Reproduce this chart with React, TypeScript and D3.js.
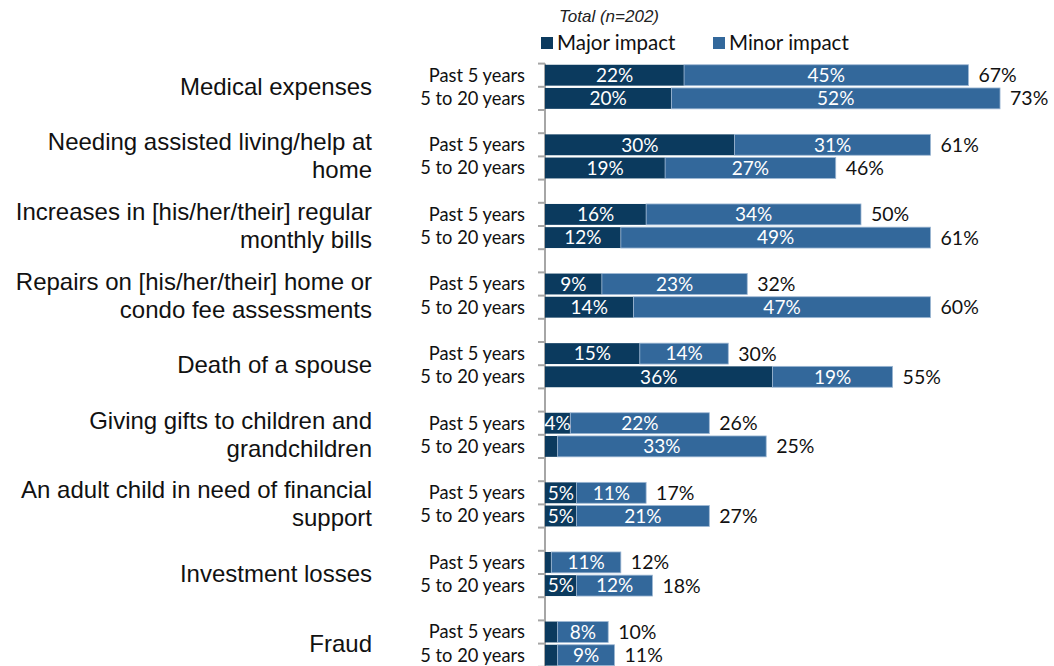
import React from "react";
import * as d3 from "d3";

const categories = [
  "Medical expenses",
  "Needing assisted living/help at\nhome",
  "Increases in [his/her/their] regular\nmonthly bills",
  "Repairs on [his/her/their] home or\ncondo fee assessments",
  "Death of a spouse",
  "Giving gifts to children and\ngrandchildren",
  "An adult child in need of financial\nsupport",
  "Investment losses",
  "Fraud",
];
const periods = ["Past 5 years", "5 to 20 years"];
const majorPast5 = [22, 30, 16, 9, 15, 4, 5, 1, 2];
const minorPast5 = [45, 31, 34, 23, 14, 22, 11, 11, 8];
const totalPast5 = ["67%", "61%", "50%", "32%", "30%", "26%", "17%", "12%", "10%"];
const major5to20 = [20, 19, 12, 14, 36, 2, 5, 5, 2];
const minor5to20 = [52, 27, 49, 47, 19, 33, 21, 12, 9];
const total5to20 = ["73%", "46%", "61%", "60%", "55%", "25%", "27%", "18%", "11%"];
const legendLabels = ["Major impact", "Minor impact"];
const subtitle = "Total (n=202)";

const W = 1054;
const H = 666;
const DARK = "#0B3A5E";
const LIGHT = "#33689B";
const AXIS = "#A6A6A6";
const FONT = "Lato, 'Open Sans', sans-serif";
const CAT_FONT = "'Liberation Sans', Arial, sans-serif";

export default function App() {
  const axisX = 545;
  const rowTop = 63.6;
  const rowH = 23.2;
  const nRows = categories.length * 3;
  const rows = d3.range(nRows);
  const y = d3
    .scaleBand<number>()
    .domain(rows)
    .range([rowTop, rowTop + nRows * rowH])
    .paddingInner(0.1)
    .paddingOuter(0.05);
  const x = d3.scaleLinear().domain([0, 100]).range([axisX, axisX + 632]);

  type Bar = { row: number; major: number; minor: number; total: string; period: string };
  const bars: Bar[] = [];
  categories.forEach((_, i) => {
    bars.push({ row: i * 3, major: majorPast5[i], minor: minorPast5[i], total: totalPast5[i], period: periods[0] });
    bars.push({ row: i * 3 + 1, major: major5to20[i], minor: minor5to20[i], total: total5to20[i], period: periods[1] });
  });

  const tickYs = d3.range(nRows + 1).map((k) => rowTop + k * rowH);
  const bw = y.bandwidth();

  return (
    <svg width={W} height={H} style={{ position: "absolute", left: 0, top: 0, background: "#fff" }}>
      {/* subtitle */}
      <text x={609} y={22} textAnchor="middle" fontFamily={CAT_FONT} fontStyle="italic" fontSize={17} fill="#222">
        {subtitle}
      </text>
      {/* legend */}
      {legendLabels.map((lab, i) => {
        const lx = i === 0 ? 541 : 713;
        return (
          <g key={lab}>
            <rect x={lx} y={37} width={12} height={12} fill={i === 0 ? DARK : LIGHT} />
            <text x={lx + 16} y={50} fontFamily={FONT} fontSize={20.5} fill="#111">
              {lab}
            </text>
          </g>
        );
      })}
      {/* axis */}
      <line x1={axisX} x2={axisX} y1={tickYs[0]} y2={H} stroke={AXIS} strokeWidth={2} />
      {tickYs.map((ty, k) => (
        <line key={k} x1={axisX - 7} x2={axisX} y1={ty} y2={ty} stroke={AXIS} strokeWidth={2} />
      ))}
      {/* category labels */}
      {categories.map((c, i) => {
        const lines = c.split("\n");
        const cy = rowTop + (i * 3 + 1) * rowH;
        const lh = 28;
        const start = cy - ((lines.length - 1) * lh) / 2;
        return (
          <text key={c} textAnchor="end" fontFamily={CAT_FONT} fontSize={24} fill="#111">
            {lines.map((ln, j) => (
              <tspan key={j} x={372} y={start + j * lh} dy="0.33em">
                {ln}
              </tspan>
            ))}
          </text>
        );
      })}
      {/* bars */}
      {bars.map((b) => {
        const by = y(b.row)!;
        const cy = by + bw / 2;
        return (
          <g key={b.row}>
            <text x={525} y={cy} dy="0.35em" textAnchor="end" fontFamily={FONT} fontSize={18.3} fill="#111">
              {b.period}
            </text>
            <rect x={x(0)} y={by} width={x(b.major) - x(0)} height={bw} fill={DARK} />
            <rect
              x={x(b.major)}
              y={by}
              width={x(b.major + b.minor) - x(b.major)}
              height={bw}
              fill={LIGHT}
              stroke="#9DB7D3"
              strokeWidth={0.8}
            />
            {b.major >= 4 && (
              <text x={(x(0) + x(b.major)) / 2} y={cy} dy="0.36em" textAnchor="middle" fontFamily={FONT} fontSize={19} fill="#fff">
                {b.major}%
              </text>
            )}
            <text
              x={(x(b.major) + x(b.major + b.minor)) / 2}
              y={cy}
              dy="0.36em"
              textAnchor="middle"
              fontFamily={FONT}
              fontSize={19}
              fill="#fff"
            >
              {b.minor}%
            </text>
            <text x={x(b.major + b.minor) + 10} y={cy} dy="0.36em" fontFamily={FONT} fontSize={19.5} fill="#111">
              {b.total}
            </text>
          </g>
        );
      })}
    </svg>
  );
}
